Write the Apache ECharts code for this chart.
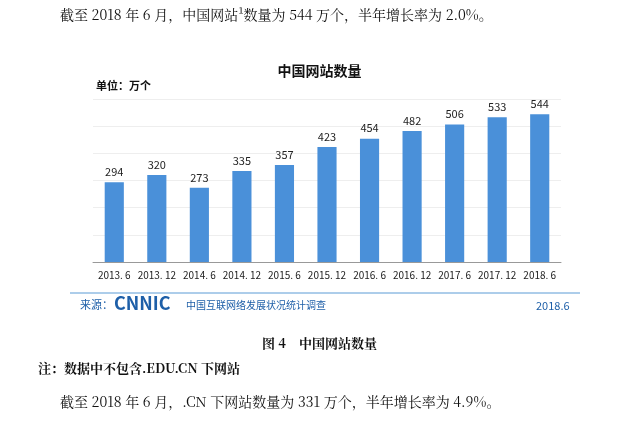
<!DOCTYPE html>
<html><head><meta charset="utf-8">
<script src="https://cdn.jsdelivr.net/npm/echarts@6/dist/echarts.min.js"></script>
<style>html,body{margin:0;background:#fff}#c{width:639px;height:426px}</style>
</head><body><div id="c"></div>
<script>
const categories = ['2013. 6','2013. 12','2014. 6','2014. 12','2015. 6','2015. 12','2016. 6','2016. 12','2017. 6','2017. 12','2018. 6']
const values = [294, 320, 273, 335, 357, 423, 454, 482, 506, 533, 544]

const serif = '"Noto Serif CJK SC","Noto Sans CJK SC",serif'
const sans = '"Noto Sans CJK SC",sans-serif'
const chart = echarts.init(document.getElementById('c'))
chart.setOption({
  animation: false,
  grid: { left: 93, right: 78, top: 99, bottom: 164 },
  xAxis: {
    type: 'category', data: categories,
    axisLine: { lineStyle: { color: '#999' } },
    axisTick: { show: false },
    axisLabel: { color: '#222', fontSize: 10, fontFamily: sans, interval: 0, margin: 8 }
  },
  yAxis: { type: 'value', min: 0, max: 600, interval: 100, axisLabel: { show: false },
    splitLine: { lineStyle: { color: '#eee' } } },
  series: [{
    type: 'bar', data: values, barWidth: '45%',
    itemStyle: { color: '#4a90d9' },
    label: { show: true, position: 'top', color: '#222', fontSize: 11, fontFamily: sans }
  }],
  graphic: [
    { type: 'text', left: 60, top: 8, style: { text: '截至 2018 年 6 月，中国网站¹数量为 544 万个，半年增长率为 2.0%。', font: '14px ' + serif, fill: '#111' } },
    { type: 'text', left: 'center', top: 64, style: { text: '中国网站数量', font: 'bold 14px ' + sans, fill: '#111' } },
    { type: 'text', left: 96, top: 80, style: { text: '单位：万个', font: 'bold 11px ' + sans, fill: '#111' } },
    { type: 'line', shape: { x1: 70, y1: 293, x2: 580, y2: 293 }, style: { stroke: '#5b9bd5', lineWidth: 1 } },
    { type: 'text', left: 80, top: 299, style: { text: '来源：', font: '11px ' + sans, fill: '#1e5fa8' } },
    { type: 'text', left: 114, top: 294, style: { text: 'CNNIC', font: 'bold 18px ' + sans, fill: '#1e5fa8' } },
    { type: 'text', left: 186, top: 300, style: { text: '中国互联网络发展状况统计调查', font: '10px ' + sans, fill: '#1e5fa8' } },
    { type: 'text', left: 536, top: 300, style: { text: '2018.6', font: '11px ' + sans, fill: '#1e5fa8' } },
    { type: 'text', left: 'center', top: 337, style: { text: '图 4    中国网站数量', font: 'bold 13px ' + serif, fill: '#111' } },
    { type: 'text', left: 38, top: 362, style: { text: '注：数据中不包含.EDU.CN 下网站', font: 'bold 13px ' + serif, fill: '#111' } },
    { type: 'text', left: 60, top: 395, style: { text: '截至 2018 年 6 月，.CN 下网站数量为 331 万个，半年增长率为 4.9%。', font: '14px ' + serif, fill: '#111' } }
  ]
})
</script></body></html>
